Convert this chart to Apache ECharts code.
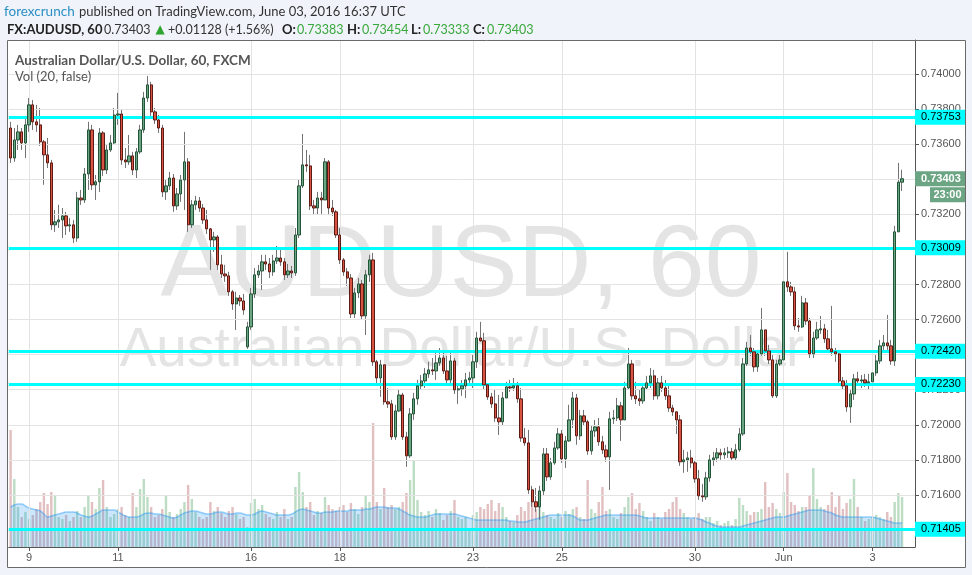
<!DOCTYPE html>
<html><head><meta charset="utf-8">
<script src="https://cdn.jsdelivr.net/npm/echarts@6/dist/echarts.min.js"></script>
<style>html,body{margin:0;padding:0;background:#f0f3fa;}#c{width:972px;height:575px;}</style>
</head><body><div id="c"></div>
<script>
// AUD/USD hourly-ish candles (2h resolution), May 6 - Jun 3 2016
const open = [
.73692,.73521,.73624,.73670,.73607,
.73710,.73824,.73727,.73710,.73613,.73539,.73493,.73140,.73157,.73168,.73191,.73134,
.73140,.73065,.73293,.73282,.73430,.73681,.73368,.73385,.73664,.73453,.73567,.73607,
.73766,.73772,.73510,.73499,.73533,.73453,.73556,.73681,.73863,.73938,.73784,.73738,
.73692,.73328,.73362,.73407,.73248,.73316,.73396,.73499,.73140,.73254,.73276,.73236,
.73168,.73117,.73054,.73071,.72912,.72860,.72849,.72758,.72689,.72723,.72706,.72444,
.72558,.72746,.72855,.72877,.72929,.72917,.72872,.72934,.72951,.72929,.72855,.72877,
.72866,.73082,.73362,.73482,.73476,.73248,.73236,.73293,.73282,.73499,.73236,.73214,
.73082,.72940,.72872,.72837,.72632,.72752,.72803,.72621,.72855,.72940,.72359,.72267,
.72342,.72131,.72119,.71931,.72079,.72170,.71931,.71823,.72062,.72148,.72222,.72250,
.72290,.72313,.72307,.72353,.72381,.72307,.72256,.72364,.72199,.72205,.72222,.72256,
.72267,.72359,.72495,.72479,.72228,.72159,.72119,.72039,.72017,.72153,.72216,.72210,
.72222,.72148,.71925,.71897,.71629,.71561,.71532,.71623,.71834,.71703,.71783,.71868,
.71948,.71806,.71908,.72028,.72153,.71937,.72051,.72017,.71851,.71965,.71988,.71903,
.71857,.71817,.72034,.72039,.72108,.72028,.72210,.72347,.72165,.72148,.72136,.72210,
.72239,.72279,.72165,.72239,.72210,.72165,.72096,.72074,.72028,.71789,.71800,.71811,
.71783,.71692,.71595,.71589,.71697,.71800,.71811,.71840,.71829,.71840,.71846,.71811,
.71857,.71948,.72347,.72438,.72416,.72330,.72404,.72541,.72421,.72370,.72165,.72347,
.72370,.72815,.72786,.72758,.72564,.72558,.72695,.72592,.72404,.72495,.72541,.72547,
.72490,.72433,.72416,.72404,.72250,.72222,.72102,.72176,.72262,.72250,.72256,.72239,
.72245,.72296,.72364,.72450,.72467,.72450,.72364,.73100,.73383];
const close = [
.73521,.73624,.73670,.73607,.73710,
.73824,.73727,.73710,.73613,.73539,.73493,.73140,.73157,.73168,.73191,.73134,.73140,
.73065,.73293,.73282,.73430,.73681,.73368,.73385,.73664,.73453,.73567,.73607,.73766,
.73772,.73510,.73499,.73533,.73453,.73556,.73681,.73863,.73938,.73784,.73738,.73692,
.73328,.73362,.73407,.73248,.73316,.73396,.73499,.73140,.73254,.73276,.73236,.73168,
.73117,.73054,.73071,.72912,.72860,.72849,.72758,.72689,.72723,.72706,.72655,.72558,
.72746,.72855,.72877,.72929,.72917,.72872,.72934,.72951,.72929,.72855,.72877,.72866,
.73082,.73362,.73482,.73476,.73248,.73236,.73293,.73282,.73499,.73236,.73214,.73082,
.72940,.72872,.72837,.72632,.72752,.72803,.72621,.72855,.72940,.72359,.72267,.72342,
.72131,.72119,.71931,.72079,.72170,.71931,.71823,.72062,.72148,.72222,.72250,.72290,
.72313,.72307,.72353,.72381,.72307,.72256,.72364,.72199,.72205,.72222,.72256,.72267,
.72359,.72495,.72479,.72228,.72159,.72119,.72039,.72017,.72153,.72216,.72210,.72222,
.72148,.71925,.71897,.71629,.71561,.71532,.71623,.71834,.71703,.71783,.71868,.71948,
.71806,.71908,.72028,.72153,.71937,.72051,.72017,.71851,.71965,.71988,.71903,.71857,
.71817,.72034,.72039,.72108,.72028,.72210,.72347,.72165,.72148,.72136,.72210,.72239,
.72279,.72165,.72239,.72210,.72165,.72096,.72074,.72028,.71789,.71800,.71811,.71783,
.71692,.71595,.71589,.71697,.71800,.71811,.71840,.71829,.71840,.71846,.71811,.71857,
.71948,.72347,.72438,.72416,.72330,.72404,.72541,.72421,.72370,.72165,.72347,.72370,
.72815,.72786,.72758,.72564,.72558,.72695,.72592,.72404,.72495,.72541,.72547,.72490,
.72433,.72416,.72404,.72250,.72222,.72102,.72176,.72262,.72250,.72256,.72239,.72245,
.72296,.72364,.72450,.72467,.72450,.72364,.73100,.73383,.73403];
const high = [
.73727,.73692,.73710,.73692,.73749,
.73863,.73852,.73824,.73806,.73624,.73635,.73510,.73225,.73254,.73236,.73214,.73179,
.73168,.73328,.73339,.73464,.73727,.73710,.73424,.73692,.73675,.73595,.73652,.73806,
.73892,.73795,.73578,.73652,.73556,.73578,.73710,.73898,.73989,.73955,.73806,.73766,
.73710,.73396,.73442,.73430,.73350,.73424,.73670,.73521,.73282,.73305,.73299,.73259,
.73225,.73122,.73100,.73082,.72969,.72912,.72872,.72769,.72758,.72740,.72746,.72587,
.72780,.72894,.72912,.72969,.72969,.72951,.72969,.73020,.73008,.72951,.72917,.72906,
.73122,.73396,.73658,.73567,.73539,.73282,.73328,.73328,.73521,.73510,.73282,.73225,
.73122,.72951,.72894,.72860,.72780,.72837,.72826,.72883,.72969,.72980,.72370,.72370,
.72342,.72210,.72142,.72114,.72199,.72182,.71960,.72096,.72182,.72256,.72284,.72324,
.72359,.72381,.72416,.72438,.72427,.72393,.72416,.72381,.72233,.72256,.72296,.72302,
.72399,.72530,.72587,.72524,.72239,.72182,.72199,.72170,.72188,.72245,.72256,.72267,
.72245,.72210,.71982,.71971,.71652,.71640,.71652,.71868,.71868,.71811,.71903,.71982,
.71971,.71937,.72114,.72188,.72176,.72085,.72085,.72028,.71994,.72028,.72039,.71937,
.71886,.72074,.72085,.72153,.72131,.72245,.72438,.72370,.72245,.72199,.72239,.72279,
.72324,.72313,.72267,.72279,.72256,.72228,.72114,.72074,.72056,.71857,.71846,.71857,
.71800,.71743,.71663,.71732,.71829,.71846,.71868,.71863,.71868,.71874,.71868,.71891,
.71982,.72381,.72473,.72512,.72438,.72427,.72666,.72541,.72456,.72399,.72370,.72399,
.72849,.72986,.72815,.72786,.72609,.72735,.72723,.72609,.72530,.72587,.72621,.72575,
.72541,.72678,.72438,.72427,.72273,.72256,.72199,.72290,.72302,.72284,.72290,.72290,
.72324,.72399,.72484,.72512,.72627,.72484,.73134,.73493,.73454];
const low = [
.73493,.73499,.73567,.73567,.73521,
.73670,.73681,.73670,.73590,.73368,.73464,.73111,.73100,.73122,.73065,.73082,.73100,
.73037,.73043,.73254,.73265,.73339,.73339,.73282,.73328,.73419,.73430,.73556,.73595,
.73710,.73482,.73464,.73482,.73424,.73407,.73544,.73664,.73841,.73761,.73715,.73664,
.73299,.73282,.73339,.73214,.73225,.73271,.73225,.73100,.73122,.73225,.73214,.73145,
.73088,.72883,.72986,.72883,.72837,.72815,.72735,.72655,.72541,.72678,.72627,.72433,
.72541,.72723,.72837,.72769,.72883,.72837,.72849,.72917,.72906,.72826,.72837,.72837,
.72849,.73065,.73350,.73442,.73225,.73197,.73197,.73202,.73282,.73202,.73191,.73065,
.72917,.72849,.72792,.72609,.72609,.72723,.72598,.72512,.72815,.72336,.72228,.72159,
.72114,.72096,.71914,.71914,.72074,.71914,.71760,.71811,.72028,.72114,.72199,.72210,
.72267,.72284,.72256,.72336,.72290,.72233,.72233,.72176,.72119,.72165,.72153,.72228,
.72210,.72324,.72473,.72199,.72142,.72096,.72017,.71942,.71994,.72153,.72188,.72193,
.72125,.71903,.71880,.71606,.71532,.71504,.71458,.71600,.71680,.71686,.71772,.71857,
.71783,.71754,.71903,.71982,.71886,.71914,.71994,.71829,.71829,.71931,.71880,.71834,
.71789,.71629,.72005,.72022,.71908,.72028,.72199,.72142,.72119,.72108,.72119,.72199,
.72210,.72142,.72145,.72188,.72142,.72074,.72051,.71948,.71766,.71726,.71732,.71754,
.71669,.71572,.71561,.71572,.71675,.71766,.71789,.71800,.71806,.71811,.71794,.71794,
.71846,.71937,.72336,.72393,.72302,.72302,.72393,.72393,.72347,.72153,.72153,.72336,
.72347,.72758,.72735,.72541,.72530,.72552,.72570,.72381,.72381,.72484,.72518,.72467,
.72410,.72393,.72359,.72228,.72199,.72074,.72011,.72142,.72228,.72210,.72216,.72199,
.72210,.72279,.72347,.72427,.72427,.72342,.72336,.73100,.73333];
const volume = [
117,68,40,30,35,
28,32,38,45,54,43,55,52,30,28,32,26,
30,36,30,40,51,45,38,59,67,40,30,33,
38,40,32,30,54,40,58,68,50,40,30,32,
38,51,35,30,33,38,45,62,48,35,30,28,
30,45,36,40,34,30,36,40,33,28,30,20,
44,48,38,42,33,30,28,35,30,38,28,30,
60,75,55,40,45,32,36,34,50,42,38,36,
40,42,35,44,38,33,40,52,45,124,45,38,
59,40,42,38,40,45,54,67,86,47,35,32,
36,30,38,34,27,32,36,47,30,28,30,18,
32,35,40,38,43,47,36,44,40,30,26,25,
32,40,36,45,54,38,40,35,32,30,28,34,
30,36,33,38,40,30,28,67,38,34,45,60,
36,38,30,28,34,40,50,54,38,44,36,30,
26,34,30,28,35,38,45,50,38,34,30,28,
30,34,28,30,30,24,26,22,24,26,22,28,
49,42,36,32,35,35,38,65,40,44,38,34,
55,74,45,42,36,40,40,52,79,48,40,38,
42,55,40,52,38,44,48,68,40,30,26,28,
30,32,30,28,35,30,45,54,50];
const volumeMA = [
40,42,43,43,41,
39,38,37,36,33,30,31,32,33,34,35,35,
35,34,32,31,30,31,33,35,37,37,37,37,
35,33,31,30,30,30,31,33,34,34,33,33,
32,31,30,29,30,32,34,35,36,36,35,34,
33,33,34,35,35,34,33,33,34,34,33,32,
32,33,35,36,35,34,33,32,32,32,32,33,
35,37,38,37,36,35,34,34,35,35,35,36,
36,36,36,37,37,37,37,38,38,39,40,40,
40,39,39,39,38,36,34,32,31,30,30,30,
31,32,33,33,33,33,33,33,32,31,30,29,
28,27,27,27,27,27,27,27,27,27,26,26,
25,25,25,26,27,28,29,30,31,32,32,32,
32,32,32,31,29,27,27,27,28,29,30,31,
32,32,32,32,32,32,32,32,32,31,30,29,
29,29,29,29,29,29,29,29,29,29,29,29,
29,28,27,25,24,22,21,20,20,20,20,20,
20,21,22,23,24,25,26,27,28,29,30,30,
30,31,32,33,34,35,36,37,37,37,37,36,
35,34,32,31,30,30,30,30,30,30,30,30,
30,29,28,27,26,25,24,24,24];
const priceTicks = [0.714,0.716,0.718,0.720,0.722,0.724,0.726,0.728,0.730,0.732,0.734,0.736,0.738,0.740];
const levels = [0.73753, 0.73009, 0.72420, 0.72230, 0.71405];
const lastPrice = 0.73403;
const countdown = '23:00';
const dayTickIndex = [5,29,65,89,125,149,185,209,233];
const dayTickLabels = ['9','11','16','18','23','25','30','Jun','3'];
const PAD = 3;

const N = open.length + PAD;
const categories = Array.from({length: N}, (_, i) => String(i));
const labelMap = {};
dayTickIndex.forEach((k, j) => { labelMap[String(k)] = dayTickLabels[j]; });
const isTick = (i) => labelMap[String(i)] !== undefined;

const wickData = open.map((o, i) => [o, close[i], low[i], high[i]]);
const bodyData = open.map((o, i) => [o, close[i], Math.min(o, close[i]), Math.max(o, close[i])]);
const volData = volume.map((v, i) => ({
  value: v,
  itemStyle: { color: close[i] >= open[i] ? '#bcdcc4' : '#e2bfc0' }
}));

const GL = 8.76, GW = 906.24, GT = 40, GH = 507;
const chart = echarts.init(document.getElementById('c'), null, {renderer: 'canvas'});
chart.setOption({
  animation: false,
  backgroundColor: '#f0f3fa',
  grid: [
    {left: GL, top: GT, width: GW, height: GH},
    {left: GL, top: GT + GH - 160, width: GW, height: 160}
  ],
  xAxis: [
    {type: 'category', gridIndex: 0, data: categories, boundaryGap: true,
     axisLine: {show: true, lineStyle: {color: '#555', width: 1}},
     axisTick: {show: true, alignWithLabel: true, interval: (i) => isTick(i), length: 4, lineStyle: {color: '#555'}},
     axisLabel: {show: true, interval: (i) => isTick(i), formatter: (v) => labelMap[v] || '',
                 color: '#555', fontSize: 11, fontFamily: 'Liberation Sans', margin: 5},
     splitLine: {show: false}},
    {type: 'category', gridIndex: 1, data: categories, boundaryGap: true, show: false}
  ],
  yAxis: [
    {type: 'value', gridIndex: 0, position: 'right', min: 0.713033, max: 0.741938,
     splitLine: {show: false},
     axisLine: {show: true, lineStyle: {color: '#555', width: 1}},
     axisTick: {show: true, customValues: priceTicks, length: 4, lineStyle: {color: '#555'}},
     axisLabel: {show: true, customValues: priceTicks, formatter: (v) => v.toFixed(5),
                 color: '#555', fontSize: 11, fontFamily: 'Liberation Sans', margin: 6}},
    {type: 'value', gridIndex: 1, min: 0, max: 160, show: false}
  ],
  series: [
    {type: 'line', xAxisIndex: 0, yAxisIndex: 0, data: close, z: 1, silent: true,
     showSymbol: false, lineStyle: {opacity: 0},
     markLine: {silent: true, precision: 6, symbol: ['none', 'none'], animation: false, label: {show: false},
       lineStyle: {color: '#e3e3e3', width: 1, type: 'solid'},
       data: priceTicks.map(v => ({yAxis: v})).concat(dayTickIndex.map(k => ({xAxis: k})))}},
    {type: 'bar', xAxisIndex: 1, yAxisIndex: 1, data: volData, barWidth: 2.4, z: 2, silent: true},
    {type: 'line', xAxisIndex: 1, yAxisIndex: 1, data: volumeMA, z: 3, smooth: 0.4, silent: true,
     showSymbol: false, lineStyle: {color: 'rgba(33,150,243,0.45)', width: 1.5},
     areaStyle: {color: 'rgba(33,150,243,0.33)'}},
    {type: 'candlestick', xAxisIndex: 0, yAxisIndex: 0, data: wickData, barWidth: 1, z: 4, silent: true,
     itemStyle: {color: '#737375', color0: '#737375', borderColor: '#737375', borderColor0: '#737375', borderWidth: 1}},
    {type: 'candlestick', xAxisIndex: 0, yAxisIndex: 0, data: bodyData, barWidth: 2.8, z: 5, silent: true,
     itemStyle: {color: '#6ba583', color0: '#d75442', borderColor: '#225437', borderColor0: '#5b1a13', borderWidth: 1}},
    {type: 'line', xAxisIndex: 0, yAxisIndex: 0, data: close, z: 6, silent: true,
     showSymbol: false, lineStyle: {opacity: 0},
     markLine: {silent: true, precision: 6, symbol: ['none', 'none'], animation: false, label: {show: false},
       lineStyle: {color: '#00ffff', width: 3, type: 'solid'},
       data: levels.map(v => ({yAxis: v}))}}
  ]
});

const py = (v) => chart.convertToPixel({yAxisIndex: 0}, v);
const FONT = '"Lato", "Open Sans", sans-serif';
const g = [];
g.push({type: 'rect', z: -10, silent: true, shape: {x: 7, y: 40, width: 958, height: 527}, style: {fill: '#ffffff'}});
// watermark
g.push({type: 'text', z: 0, silent: true, style: {text: 'AUDUSD, 60', x: 461, y: 268, align: 'center', verticalAlign: 'middle',
  font: '102px "Liberation Sans"', fill: '#e4e4e4'}});
g.push({type: 'text', z: 0, silent: true, style: {text: 'Australian Dollar/U.S. Dollar', x: 462, y: 351, align: 'center', verticalAlign: 'middle',
  font: '55px "Liberation Sans"', fill: '#e4e4e4'}});
// header
const hdr = (text, x, y, fill, weight, size) => g.push({type: 'text', z: 70, silent: true,
  style: {text, x, y, align: 'left', verticalAlign: 'middle', font: (weight || 'normal') + ' ' + (size || 13) + 'px ' + FONT, fill}});
hdr('forexcrunch', 4, 12, '#2a8fc4', 'normal', 13.5);
hdr('published on TradingView.com, June 03, 2016 16:37 UTC', 79, 12, '#333333', 'normal', 13);
hdr('FX:AUDUSD, 60', 7, 30, '#222222', 'bold', 13);
hdr('0.73403', 104, 30, '#333333', 'normal', 12.5);
g.push({type: 'text', z: 70, silent: true, style: {text: '\u25B2', x: 160, y: 30, align: 'center', verticalAlign: 'middle', font: '12px "DejaVu Sans"', fill: '#2ea32e'}});
hdr('+0.01128 (+1.56%)', 168, 30, '#333333', 'normal', 12.5);
hdr('O:', 282, 30, '#222222', 'bold', 13); hdr('0.73383', 297, 30, '#37a83a', 'normal', 12.5);
hdr('H:', 347, 30, '#222222', 'bold', 13); hdr('0.73454', 362, 30, '#37a83a', 'normal', 12.5);
hdr('L:', 411, 30, '#222222', 'bold', 13); hdr('0.73333', 423, 30, '#37a83a', 'normal', 12.5);
hdr('C:', 473, 30, '#222222', 'bold', 13); hdr('0.73403', 487, 30, '#37a83a', 'normal', 12.5);
hdr('Australian Dollar/U.S. Dollar, 60, FXCM', 15, 61, '#555555', 'bold', 13.5);
hdr('Vol (20, false)', 15, 77, '#555555', 'normal', 13);
// price boxes
levels.forEach(v => {
  const y = py(v);
  g.push({type: 'rect', z: 80, silent: true, shape: {x: 915, y: y - 7.5, width: 50, height: 15}, style: {fill: '#00ffff'}});
  g.push({type: 'text', z: 81, silent: true, style: {text: v.toFixed(5), x: 921, y: y, align: 'left', verticalAlign: 'middle',
    font: '11px "Liberation Sans"', fill: '#000000'}});
});
const yl = py(lastPrice);
g.push({type: 'rect', z: 80, silent: true, shape: {x: 915, y: yl - 7.5, width: 50, height: 15}, style: {fill: '#6ba583'}});
g.push({type: 'text', z: 81, silent: true, style: {text: lastPrice.toFixed(5), x: 921, y: yl, align: 'left', verticalAlign: 'middle',
  font: 'bold 11px "Liberation Sans"', fill: '#ffffff'}});
g.push({type: 'rect', z: 80, silent: true, shape: {x: 930, y: yl + 8.5, width: 35, height: 15}, style: {fill: '#6ba583'}});
g.push({type: 'text', z: 81, silent: true, style: {text: countdown, x: 947.5, y: yl + 16, align: 'center', verticalAlign: 'middle',
  font: 'bold 11px "Liberation Sans"', fill: '#ffffff'}});
// frame
g.push({type: 'rect', z: 90, silent: true, shape: {x: 7.5, y: 40.5, width: 958, height: 527}, style: {fill: null, stroke: '#6a6a6a', lineWidth: 1}});
chart.setOption({graphic: g});
</script></body></html>
